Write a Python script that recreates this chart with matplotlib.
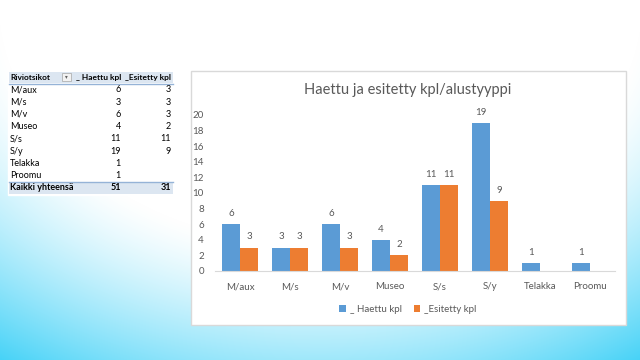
import numpy as np
import matplotlib as mpl
import matplotlib.pyplot as plt
from matplotlib.patches import Rectangle

# data
categories = ['M/aux', 'M/s', 'M/v', 'Museo', 'S/s', 'S/y', 'Telakka', 'Proomu']
haettu = [6, 3, 6, 4, 11, 19, 1, 1]
esitetty = [3, 3, 3, 2, 11, 9, None, None]
total_haettu = 51
total_esitetty = 31
col_headers = ['Riviotsikot', '_ Haettu kpl', '_Esitetty kpl']
total_label = 'Kaikki yhteensä'
title = 'Haettu ja esitetty kpl/alustyyppi'

plt.rcParams['font.family'] = ['Lato', 'DejaVu Sans']
blue = '#5b9bd5'
orange = '#ed7d31'
gray = '#595959'

fig = plt.figure(figsize=(6.4, 3.6), dpi=100)

# background gradient (white at the top, cyan towards bottom corners)
bg = fig.add_axes([0, 0, 1, 1])
yy, xx = np.mgrid[0:360, 0:640]
r = np.sqrt(((xx - 320) / 473.0) ** 2 + (yy / 360.0) ** 2)
t = (np.clip((r - 0.68) / 0.53, 0, 1) ** 1.3)[..., None]
white = np.array([1.0, 1.0, 1.0])
cyan = np.array([0x45, 0xd2, 0xf7]) / 255.0
img = white * (1 - t) + cyan * t
bg.imshow(img, extent=[0, 640, 360, 0], aspect='auto')
bg.set_xlim(0, 640)
bg.set_ylim(360, 0)
bg.axis('off')

# pivot table on the left (pixel coords)
fs = 6.5
hfs = 6.0
bg.add_patch(Rectangle((8, 72), 166, 123, facecolor='white', edgecolor='white', lw=1))
bg.add_patch(Rectangle((9, 72), 164, 11, facecolor='#dce6f1', edgecolor='none'))
bg.plot([9, 173], [83.5, 83.5], color='#95b3d7', lw=1)
bg.add_patch(Rectangle((62, 73), 9, 8, facecolor='#f2f2f2', edgecolor='#a6a6a6', lw=0.5))
bg.text(66.5, 77, '▾', fontsize=4, ha='center', va='center', color='#606060', family='DejaVu Sans')
bg.text(10, 77.5, col_headers[0], fontsize=hfs, fontweight='bold', va='center', ha='left')
bg.text(121, 77.5, col_headers[1], fontsize=hfs, fontweight='bold', va='center', ha='right')
bg.text(171, 77.5, col_headers[2], fontsize=hfs, fontweight='bold', va='center', ha='right')
row_h = 12.2
for i, cat in enumerate(categories):
    yc = 90 + i * row_h
    bg.text(10, yc, cat, fontsize=fs, va='center', ha='left')
    bg.text(121, yc, str(haettu[i]), fontsize=fs, va='center', ha='right')
    if esitetty[i] is not None:
        bg.text(171, yc, str(esitetty[i]), fontsize=fs, va='center', ha='right')
bg.add_patch(Rectangle((9, 182), 164, 12, facecolor='#dce6f1', edgecolor='none'))
bg.plot([9, 173], [181.5, 181.5], color='#95b3d7', lw=1)
bg.text(10, 188, total_label, fontsize=fs, fontweight='bold', va='center', ha='left')
bg.text(121, 188, str(total_haettu), fontsize=fs, fontweight='bold', va='center', ha='right')
bg.text(171, 188, str(total_esitetty), fontsize=fs, fontweight='bold', va='center', ha='right')

# chart panel
bg.add_patch(Rectangle((191, 71), 435, 254, facecolor='white', edgecolor='#d9d9d9', lw=1))

ax = fig.add_axes([215 / 640, (360 - 271) / 360, 400 / 640, 156 / 360])
ax.set_facecolor('none')
x = np.arange(len(categories))
w = 0.36
h_vals = np.array(haettu, dtype=float)
e_vals = np.array([np.nan if v is None else v for v in esitetty], dtype=float)
b1 = ax.bar(x - w / 2, h_vals, w, color=blue, label='_ Haettu kpl')
b2 = ax.bar(x + w / 2, np.nan_to_num(e_vals), w, color=orange, label='_Esitetty kpl')
for xi, v in zip(x, h_vals):
    ax.text(xi - w / 2, v + 0.8, f'{int(v)}', ha='center', va='bottom', fontsize=7, color=gray, clip_on=False)
for xi, v in zip(x, e_vals):
    if not np.isnan(v):
        ax.text(xi + w / 2, v + 0.8, f'{int(v)}', ha='center', va='bottom', fontsize=7, color=gray, clip_on=False)
ax.set_xlim(-0.5, len(categories) - 0.5)
ax.set_ylim(0, 20)
ax.set_yticks(range(0, 21, 2))
ax.set_xticks(x)
ax.set_xticklabels(categories)
ax.tick_params(axis='both', length=0, labelsize=7, labelcolor=gray)
ax.tick_params(axis='x', pad=8)
ax.tick_params(axis='y', pad=8)
for s in ['top', 'right', 'left']:
    ax.spines[s].set_visible(False)
ax.spines['bottom'].set_color('#d9d9d9')

fig.text(408 / 640, 1 - 90 / 360, title, ha='center', va='center', fontsize=10.5, color=gray)
fig.legend(handles=[b1, b2], loc='center', bbox_to_anchor=(408 / 640, 1 - 309 / 360),
           ncol=2, frameon=False, fontsize=7, labelcolor=gray, handlelength=0.7,
           handleheight=0.7, handletextpad=0.4, columnspacing=1.2)

fig.savefig('out.png', dpi=100)
